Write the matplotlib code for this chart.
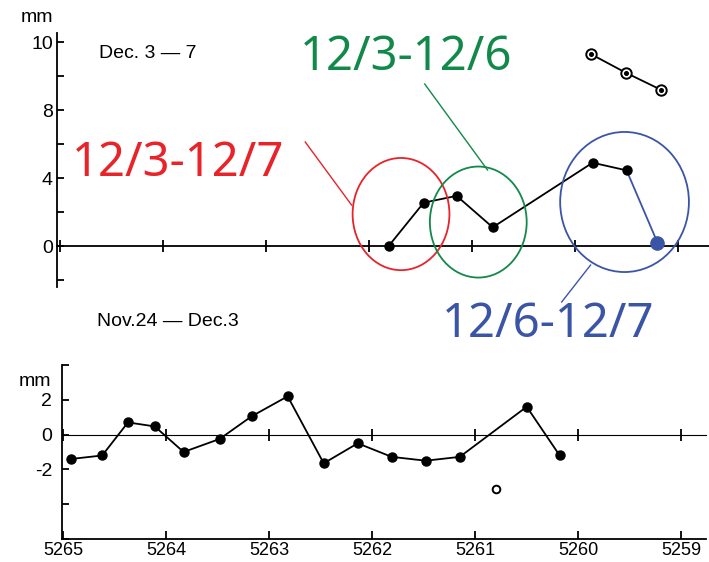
import matplotlib
matplotlib.use("Agg")
import matplotlib.pyplot as plt
from matplotlib.patches import Ellipse

# ---- data -------------------------------------------------------------
stations = [5265, 5264, 5263, 5262, 5261, 5260, 5259]
station_labels = ["5265", "5264", "5263", "5262", "5261", "5260", "5259"]

# Nov. 24 - Dec. 3 displacement (mm)
nov_x = [5264.92, 5264.62, 5264.37, 5264.11, 5263.83, 5263.48, 5263.17,
         5262.82, 5262.47, 5262.14, 5261.81, 5261.48, 5261.15, 5260.50, 5260.18]
nov_mm = [-1.4, -1.2, 0.7, 0.47, -1.0, -0.25, 1.05, 2.2, -1.65,
          -0.5, -1.28, -1.5, -1.28, 1.6, -1.2]
nov_open_x = [5260.80]
nov_open_mm = [-3.15]

# Dec. 3 - 7 displacement (mm)
dec_x = [5261.81, 5261.47, 5261.15, 5260.80, 5259.83, 5259.50]
dec_mm = [0.0, 2.55, 2.95, 1.1, 4.9, 4.45]
dec_last_x = [5259.20]
dec_last_mm = [0.2]
dec_ring_x = [5259.85, 5259.51, 5259.17]
dec_ring_mm = [11.3, 10.2, 9.2]

top_ticks = [-2, 0, 2, 4, 6, 8, 10, 12]
top_tick_labels = ["", "0", "", "4", "", "8", "", "10"]
bot_ticks = [-6, -4, -2, 0, 2, 4]
bot_tick_labels = ["", "", "-2", "0", "2", ""]

# ---- figure -----------------------------------------------------------
W, H = 709, 562
fig = plt.figure(figsize=(W / 100, H / 100), dpi=100)
fig.patch.set_facecolor("white")

FONT = "Liberation Sans"
ANN_FONT = "Noto Sans"
RED, GREEN, BLUE = "#e8232a", "#12894a", "#3b55a6"
LW = 1.3


def frac(x0, y0, x1, y1):
    """pixel box (left, top, right, bottom) -> figure fraction rect"""
    return [x0 / W, 1 - y1 / H, (x1 - x0) / W, (y1 - y0) / H]


def fig_xy(x, y):
    """pixel position -> figure fraction"""
    return (x / W, 1 - y / H)


def style_common(ax):
    ax.set_facecolor("none")
    for s in ("top", "right"):
        ax.spines[s].set_visible(False)
    ax.spines["left"].set_linewidth(LW)
    ax.tick_params(axis="y", direction="in", length=5, width=LW, pad=3)


# ---- top panel: Dec. 3 - 7 -------------------------------------------
ax1 = fig.add_axes(frac(57, 33, 709, 287))
ax1.set_xlim(5265.03, 5258.70)
ax1.set_ylim(-2.41, 12.53)
style_common(ax1)
ax1.spines["bottom"].set_position(("data", 0))
ax1.spines["bottom"].set_linewidth(LW)
ax1.set_xticks(stations)
ax1.tick_params(axis="x", direction="inout", length=9, width=LW,
                labelbottom=False)
ax1.set_yticks(top_ticks)
ax1.set_yticklabels(top_tick_labels, fontfamily=FONT, fontsize=14)

ax1.plot(dec_x, dec_mm, color="black", lw=LW, marker="o", ms=6.5,
         zorder=4)
ax1.plot([dec_x[-1], dec_last_x[0]], [dec_mm[-1], dec_last_mm[0]],
         color=BLUE, lw=LW, zorder=3)
ax1.plot(dec_last_x, dec_last_mm, "o", color=BLUE, ms=9.5, zorder=5,
         clip_on=False)
ax1.plot(dec_ring_x, dec_ring_mm, color="black", lw=LW, marker="o",
         ms=7.5, mfc="white", mec="black", mew=1.4, zorder=4)
ax1.plot(dec_ring_x, dec_ring_mm, "o", color="black", ms=2.6, zorder=5)

fig.text(*fig_xy(37, 17), "mm", fontsize=14, fontfamily=FONT,
         ha="center", va="center")
fig.text(*fig_xy(99, 53), "Dec. 3 — 7", fontsize=14, fontfamily=FONT,
         ha="left", va="center")

# circled intervals with labels
ann = [
    # (centre x, centre y, width, height, colour)
    (5261.69, 1.88, 0.94, 6.6, RED),
    (5260.94, 1.41, 0.94, 6.53, GREEN),
    (5259.52, 2.59, 1.25, 8.24, BLUE),
]
for cx, cy, w, h, c in ann:
    ax1.add_patch(Ellipse((cx, cy), w, h, fill=False, ec=c, lw=1.3,
                          zorder=6, clip_on=False))

ax1.plot([5262.62, 5262.17], [6.12, 2.41], color=RED, lw=1.0, clip_on=False)
ax1.plot([5261.46, 5260.85], [9.53, 4.47], color=GREEN, lw=1.0, clip_on=False)
ax1.plot([5259.85, 5260.13], [-1.12, -3.29], color=BLUE, lw=1.0, clip_on=False)

ax1.text(5263.85, 4.88, "12/3-12/7", color=RED, fontsize=34,
         fontfamily=ANN_FONT, ha="center", va="center")
ax1.text(5261.64, 11.06, "12/3-12/6", color=GREEN, fontsize=34,
         fontfamily=ANN_FONT, ha="center", va="center")
ax1.text(5260.26, -4.59, "12/6-12/7", color=BLUE, fontsize=34,
         fontfamily=ANN_FONT, ha="center", va="center")

# ---- bottom panel: Nov. 24 - Dec. 3 ----------------------------------
ax2 = fig.add_axes(frac(62, 365, 706, 539))
ax2.set_xlim(5265.01, 5258.76)
ax2.set_ylim(-6, 4)
style_common(ax2)
ax2.spines["bottom"].set_linewidth(LW)
ax2.set_xticks(stations)
ax2.set_xticklabels(station_labels, fontfamily=FONT, fontsize=13)
ax2.tick_params(axis="x", direction="in", length=6, width=LW, pad=2)
ax2.set_yticks(bot_ticks)
ax2.set_yticklabels(bot_tick_labels, fontfamily=FONT, fontsize=14)
ax2.tick_params(axis="y", pad=7)

zero = ax2.secondary_xaxis(0.6)
zero.spines["bottom"].set_linewidth(LW)
zero.set_xticks(stations)
zero.tick_params(direction="inout", length=9, width=LW, labelbottom=False,
                 labeltop=False)

ax2.plot(nov_x, nov_mm, color="black", lw=LW, marker="o", ms=6.5, zorder=4)
ax2.plot(nov_open_x, nov_open_mm, "o", mfc="white", mec="black", mew=1.4,
         ms=5.5, zorder=4)

fig.text(*fig_xy(35, 381), "mm", fontsize=14, fontfamily=FONT,
         ha="center", va="center")
fig.text(*fig_xy(97, 322), "Nov.24 — Dec.3", fontsize=14, fontfamily=FONT,
         ha="left", va="center")

fig.savefig("out.png", dpi=100, facecolor="white")
